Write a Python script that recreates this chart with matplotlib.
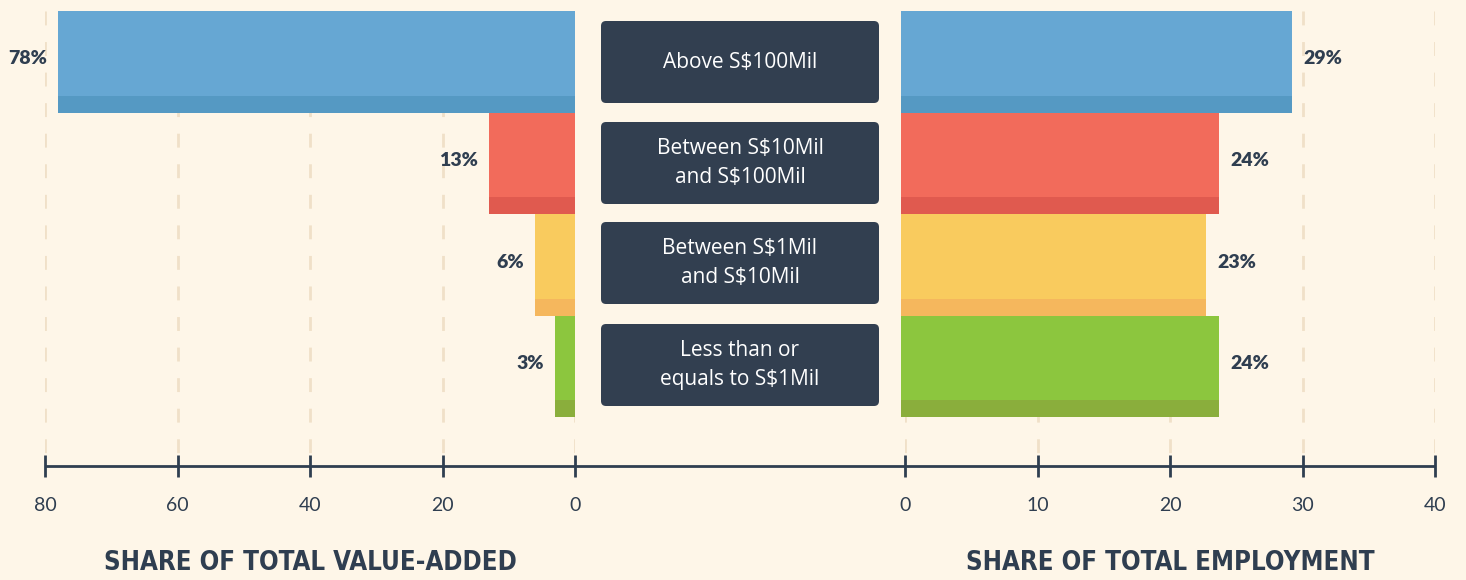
import matplotlib
matplotlib.use("Agg")
import matplotlib.pyplot as plt
from matplotlib.patches import FancyBboxPatch

categories = ["Above S$100Mil", "Between S$10Mil\nand S$100Mil",
              "Between S$1Mil\nand S$10Mil", "Less than or\nequals to S$1Mil"]
value_added = [78, 13, 6, 3]
employment = [29.5, 24, 23, 24]
employment_labels = ["29%", "24%", "23%", "24%"]
value_labels = ["78%", "13%", "6%", "3%"]
left_ticks = [0, 20, 40, 60, 80]
right_ticks = [0, 10, 20, 30, 40]

main_colors = ["#66a7d3", "#f26b5b", "#f9cb5e", "#8cc63e"]
strip_colors = ["#5599c3", "#e05a4f", "#f5b75d", "#8aae3c"]
BG = "#fef6e8"
DARK = "#2f3e50"
BOX = "#323f50"
GRID = "#f0e0c8"

W, H = 1466, 580
fig = plt.figure(figsize=(W / 100, H / 100), dpi=100, facecolor=BG)

def ax_rect(x0, x1, y0, y1):
    return [x0 / W, 1 - y1 / H, (x1 - x0) / W, (y1 - y0) / H]

AX_TOP, AX_BOT = 0, 466
axL = fig.add_axes(ax_rect(45, 575, AX_TOP, AX_BOT))
axR = fig.add_axes(ax_rect(905, 1435, AX_TOP, AX_BOT))
# overlay axes in pixel coordinates for boxes / titles / axis line
axO = fig.add_axes([0, 0, 1, 1], zorder=5)
axO.set_xlim(0, W)
axO.set_ylim(H, 0)
axO.axis("off")
axO.set_facecolor("none")

bar_h = 101.5
strip_h = 17
first_center = 62
step = 101.5
centers = [first_center + step * i for i in range(len(categories))]

for ax in (axL, axR):
    ax.set_facecolor("none")
    ax.set_ylim(AX_BOT - AX_TOP, 0)
    for s in ("top", "left", "right", "bottom"):
        ax.spines[s].set_visible(False)
    ax.tick_params(axis="y", left=False, labelleft=False)
    ax.tick_params(axis="x", direction="inout", length=16, width=2, color=DARK,
                   labelsize=14, labelcolor=DARK, pad=14)

LBL = dict(fontsize=14, fontweight="heavy", color=DARK, family="Lato")

# left axis
axL.set_xlim(80, 0)
axL.set_xticks(left_ticks)
for t in left_ticks:
    axL.plot([t, t], [11, 455], color=GRID, lw=2, ls=(0, (5, 6)), zorder=0)
for i, v in enumerate(value_added):
    c = centers[i]
    axL.barh(c, v, height=bar_h, color=main_colors[i], zorder=2, linewidth=0)
    axL.barh(c + bar_h / 2 - strip_h / 2, v, height=strip_h, color=strip_colors[i],
             zorder=3, linewidth=0)
    axL.annotate(value_labels[i], (v, c - 3), xytext=(-8, 0), textcoords="offset points",
                 ha="right", va="center", **LBL)

# right axis
axR.set_xlim(0, 40)
axR.set_xticks(right_ticks)
for t in right_ticks:
    axR.plot([t, t], [11, 455], color=GRID, lw=2, ls=(0, (5, 6)), zorder=0)
for i, v in enumerate(employment):
    c = centers[i]
    axR.barh(c, v, left=-0.3, height=bar_h, color=main_colors[i], zorder=2,
             linewidth=0, clip_on=False)
    axR.barh(c + bar_h / 2 - strip_h / 2, v, left=-0.3, height=strip_h,
             color=strip_colors[i], zorder=3, linewidth=0, clip_on=False)
    axR.annotate(employment_labels[i], (v - 0.3, c - 3), xytext=(8, 0),
                 textcoords="offset points", ha="left", va="center", **LBL)

for ax in (axL, axR):
    for lab in ax.get_xticklabels():
        lab.set_family("Lato")

# continuous axis line
axO.plot([45, 1435], [466, 466], color=DARK, lw=2, solid_capstyle="butt")

# category boxes
box_x0, box_x1 = 601, 879
box_tops = [21, 122, 222, 324]
box_hgt = 82
r = 5
for i, cat in enumerate(categories):
    y0 = box_tops[i]
    rect = FancyBboxPatch((box_x0 + r, y0 + r), box_x1 - box_x0 - 2 * r, box_hgt - 2 * r,
                          boxstyle=f"round,pad={r}", facecolor=BOX, edgecolor="none",
                          lw=0)
    axO.add_patch(rect)
    axO.text((box_x0 + box_x1) / 2, y0 + box_hgt / 2, cat,
             ha="center", va="center", color="white", fontsize=15,
             family="Open Sans", linespacing=1.55)

# titles
TITLE = dict(ha="center", va="center", fontsize=18.5, fontweight="bold", color=DARK,
             family="DejaVu Sans", fontstretch="condensed")
axO.text(310, 563, "SHARE OF TOTAL VALUE-ADDED", **TITLE)
axO.text(1170, 563, "SHARE OF TOTAL EMPLOYMENT", **TITLE)

fig.savefig("out.png", dpi=100, facecolor=BG)
